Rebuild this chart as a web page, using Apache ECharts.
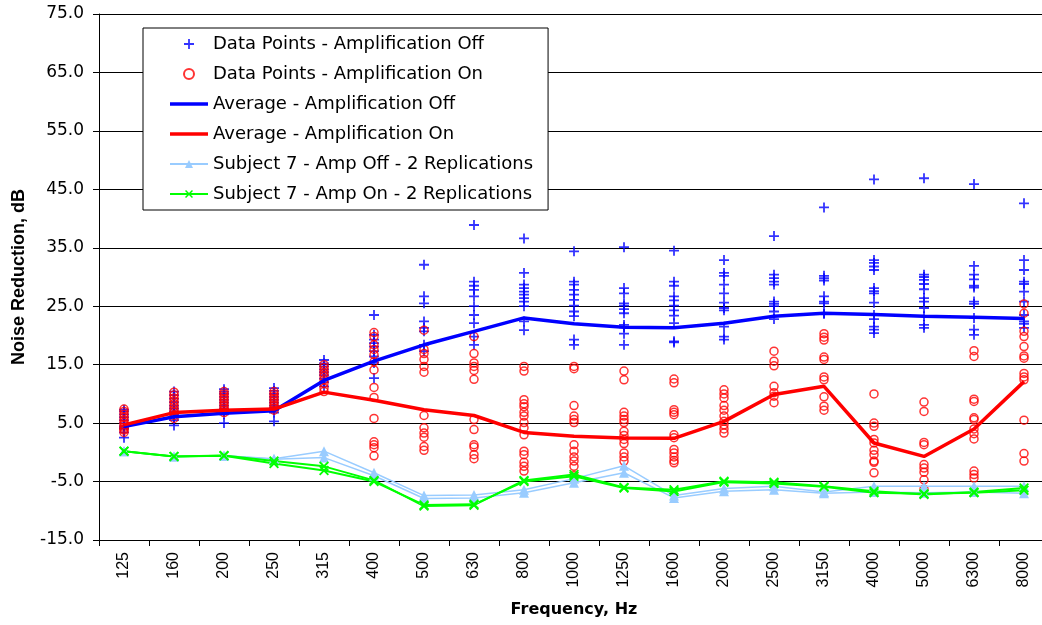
<!DOCTYPE html>
<html>
<head>
<meta charset="utf-8">
<script src="https://cdn.jsdelivr.net/npm/echarts@6/dist/echarts.min.js"></script>
<style>html,body{margin:0;padding:0;background:#fff;}#c{width:1042px;height:625px;}</style>
</head>
<body>
<div id="c"></div>
<script>
const frequencies = ['125','160','200','250','315','400','500','630','800','1000','1250','1600','2000','2500','3150','4000','5000','6300','8000'];
const yTickMin = -15, yTickMax = 75, yTickStep = 10;

const ampOffPoints = [
  [2.5,3.4,4.0,4.5,5.0,5.5,6.0,6.5,7.0,7.3,4.2],
  [4.6,5.5,6.0,6.5,7.0,7.5,8.0,8.6,9.2,9.8,10.4],
  [5.0,6.5,7.0,7.5,8.0,8.5,9.0,9.5,10.0,10.4,10.8],
  [5.3,6.8,7.2,7.6,8.0,8.5,9.0,9.5,10.0,10.5,11.0],
  [11.3,12.0,12.6,13.2,13.7,14.2,14.7,15.2,15.8],
  [23.5,20.1,19.3,18.7,18.1,17.3,16.4,15.3,12.7],
  [32.1,26.7,25.5,22.4,21.3,20.7,18.4,17.3],
  [38.9,29.2,28.5,27.8,26.7,25.0,23.5,22.1,19.8,18.4],
  [36.6,30.7,28.7,28.1,27.5,27.0,26.4,25.8,25.0,22.4,20.9],
  [34.4,29.2,28.7,27.8,27.0,26.1,25.1,24.1,23.3,19.3,18.4],
  [35.1,28.1,27.2,25.5,25.1,24.5,23.8,21.8,21.4,20.3,18.4],
  [34.5,29.2,28.5,26.7,26.0,25.1,24.3,23.4,22.1,19.0,18.8],
  [32.9,30.7,30.2,28.7,27.2,25.6,24.7,24.3,21.5,19.8,19.3],
  [37.0,30.4,29.8,29.2,28.7,25.8,25.4,25.0,24.1,22.8],
  [41.9,30.2,29.8,29.4,26.7,25.8,25.5,23.8,23.7],
  [46.7,32.9,32.4,31.8,31.2,28.1,27.6,27.2,25.6,23.5,22.8,21.5,21.0,20.4],
  [46.9,30.4,30.0,29.5,28.8,27.9,26.4,25.8,24.7,23.3,21.8,21.3],
  [45.9,31.9,30.4,29.6,28.5,28.2,25.8,25.4,23.0,21.0,20.1],
  [42.6,32.9,31.2,29.2,28.8,27.5,25.8,23.5,22.4,22.0,21.3]
];

const ampOnPoints = [
  [3.4,3.8,4.3,4.7,5.1,5.5,6.0,6.5,7.0,7.4,4.0],
  [5.8,6.3,6.8,7.3,7.8,8.3,8.8,9.3,9.8,10.3],
  [6.8,7.2,7.6,8.0,8.4,8.8,9.2,9.6,10.0,10.4],
  [7.2,7.6,8.0,8.4,8.8,9.2,9.6,10.0,10.4],
  [10.4,11.0,11.8,12.4,13.0,13.5,14.0,14.5,15.0],
  [20.5,19.8,18.4,17.6,16.7,15.5,14.1,11.1,9.4,5.8,1.8,1.3,0.8,-0.6],
  [20.9,17.6,16.9,15.9,14.7,13.7,6.3,4.2,3.3,2.6,1.0,0.35],
  [19.8,16.9,15.3,14.7,14.0,12.5,5.6,3.9,1.3,0.9,-0.4,-1.1],
  [14.7,13.9,9.0,8.3,7.8,6.85,6.2,5.1,4.2,3.0,0.2,-0.4,-1.7,-2.4,-3.2],
  [14.7,14.3,8.0,6.2,5.6,5.1,1.3,0.2,-0.8,-1.5,-2.4,-4.0],
  [13.9,12.4,6.85,6.2,5.6,5.1,3.6,2.9,2.2,1.5,-0.1,-0.8,-1.5],
  [12.55,11.9,7.3,6.85,6.45,3.0,2.5,0.5,-0.1,-0.8,-1.4,-1.8],
  [10.7,10.0,9.3,8.0,7.2,6.2,5.3,4.7,4.0,3.3],
  [17.3,15.6,14.8,11.3,10.2,9.6,8.5],
  [20.3,19.7,19.2,16.3,15.9,12.9,12.4,9.5,7.9,7.2],
  [10.0,5.0,4.45,2.2,1.6,0.35,-0.4,-1.5,-1.7,-3.5],
  [8.6,7.0,1.7,1.3,-2.1,-2.7,-3.4,-4.7,-6.3],
  [17.4,16.4,9.1,8.7,5.9,5.6,4.0,3.2,2.3,-3.2,-3.8,-4.4],
  [25.4,23.8,20.7,19.8,18.1,16.5,16.1,13.5,12.9,12.4,5.5,-0.2,-1.5]
];

const avgAmpOff = [4.4,6.1,6.7,7.1,12.3,15.6,18.4,20.7,23.0,22.0,21.4,21.3,22.1,23.3,23.8,23.6,23.3,23.1,22.9];
const avgAmpOn  = [4.7,6.8,7.2,7.4,10.3,8.9,7.3,6.3,3.4,2.75,2.45,2.4,5.3,9.9,11.3,1.6,-0.7,4.0,12.1];

const subj7OffRep1 = [0.2,-0.7,-0.6,-1.1,0.2,-3.5,-7.4,-7.3,-6.4,-4.5,-2.3,-7.4,-6.2,-5.8,-6.8,-5.8,-5.8,-5.8,-5.8];
const subj7OffRep2 = [0.2,-0.7,-0.6,-1.2,-0.9,-4.0,-7.9,-7.8,-6.9,-5.2,-3.5,-7.8,-6.65,-6.4,-7.0,-6.8,-6.9,-6.8,-7.0];
const subj7OnRep1  = [0.2,-0.7,-0.55,-1.5,-2.4,-4.8,-9.2,-9.05,-4.8,-3.8,-6.0,-6.4,-4.95,-5.1,-5.8,-6.65,-7.2,-6.8,-6.1];
const subj7OnRep2  = [0.2,-0.7,-0.6,-1.9,-3.1,-5.0,-9.0,-8.9,-5.0,-4.1,-6.1,-6.7,-5.1,-5.35,-5.9,-6.9,-7.1,-6.9,-6.5];

const seriesNames = [
  'Data Points - Amplification Off',
  'Data Points - Amplification On',
  'Average - Amplification Off',
  'Average - Amplification On',
  'Subject 7 - Amp Off - 2 Replications',
  'Subject 7 - Amp On - 2 Replications'
];

const PLUS = 'path://M4.1,0H5.9V10H4.1ZM0,4.1H10V5.9H0Z';
const CROSS = 'path://M0,1.3L1.3,0L10,8.7L8.7,10ZM8.7,0L10,1.3L1.3,10L0,8.7Z';
const BAR = 'path://M0,0H38V3.5H0Z';

function toPairs(groups){ const out=[]; groups.forEach((g,i)=>g.forEach(v=>out.push([i,v]))); return out; }

const HFONT = 'DejaVu Sans';
const chart = echarts.init(document.getElementById('c'), null, {renderer:'canvas'});
chart.setOption({
  animation:false,
  backgroundColor:'#fff',
  grid:{left:99, top:14, width:950, height:526, outerBoundsMode:'none', containLabel:false},
  legend:{
    left:143, top:28, orient:'vertical',
    padding:[6,15,6,26],
    itemWidth:38, itemHeight:10, itemGap:10,
    backgroundColor:'#fff', borderColor:'#000', borderWidth:1, borderRadius:0,
    textStyle:{fontFamily:HFONT, fontSize:18, color:'#000', lineHeight:20},
    data:[
      {name:seriesNames[0]},
      {name:seriesNames[1]},
      {name:seriesNames[2], icon:BAR},
      {name:seriesNames[3], icon:BAR},
      {name:seriesNames[4]},
      {name:seriesNames[5]}
    ]
  },
  xAxis:{
    type:'category', data:frequencies, boundaryGap:true,
    axisLine:{show:true, onZero:false, lineStyle:{color:'#000', width:1}},
    axisTick:{show:true, length:6, lineStyle:{color:'#000'}},
    axisLabel:{rotate:90, fontFamily:'Liberation Sans', fontSize:16, color:'#000', margin:12},
    splitLine:{show:false},
    name:'Frequency, Hz', nameLocation:'middle', nameGap:62,
    nameTextStyle:{fontFamily:HFONT, fontWeight:'bold', fontSize:16, color:'#000'}
  },
  yAxis:{
    type:'value', min:yTickMin, max:yTickMax, interval:yTickStep,
    axisLine:{show:true, lineStyle:{color:'#000', width:1}},
    axisTick:{show:true, length:6, lineStyle:{color:'#000'}},
    axisLabel:{formatter:v=>v.toFixed(1), fontFamily:HFONT, fontSize:17, color:'#000', margin:15},
    splitLine:{show:true, lineStyle:{color:'#000', width:1}},
    name:'Noise Reduction, dB', nameLocation:'middle', nameGap:71, nameRotate:90,
    nameTextStyle:{fontFamily:'Liberation Sans', fontWeight:'bold', fontSize:18, color:'#000'}
  },
  series:[
    {name:seriesNames[0], type:'scatter', data:toPairs(ampOffPoints), symbol:PLUS, symbolSize:10,
     itemStyle:{color:'#0000FF'}},
    {name:seriesNames[1], type:'scatter', data:toPairs(ampOnPoints), symbol:'circle', symbolSize:8,
     itemStyle:{color:'rgba(255,255,255,0)', borderColor:'#FF0000', borderWidth:1.5}},
    {name:seriesNames[2], type:'line', data:avgAmpOff, symbol:'none', lineStyle:{color:'#0000FF', width:3.5}, itemStyle:{color:'#0000FF'}},
    {name:seriesNames[3], type:'line', data:avgAmpOn, symbol:'none', lineStyle:{color:'#FF0000', width:3.5}, itemStyle:{color:'#FF0000'}},
    {name:seriesNames[4], type:'line', data:subj7OffRep1, symbol:'triangle', symbolSize:10, lineStyle:{color:'#99CCFF', width:1.5}, itemStyle:{color:'#99CCFF'}},
    {name:seriesNames[4], type:'line', data:subj7OffRep2, symbol:'triangle', symbolSize:10, lineStyle:{color:'#99CCFF', width:1.5}, itemStyle:{color:'#99CCFF'}},
    {name:seriesNames[5], type:'line', data:subj7OnRep1, symbol:CROSS, symbolSize:10, lineStyle:{color:'#00FF00', width:2}, itemStyle:{color:'#00FF00'}},
    {name:seriesNames[5], type:'line', data:subj7OnRep2, symbol:CROSS, symbolSize:10, lineStyle:{color:'#00FF00', width:2}, itemStyle:{color:'#00FF00'}}
  ]
});
</script>
</body>
</html>
